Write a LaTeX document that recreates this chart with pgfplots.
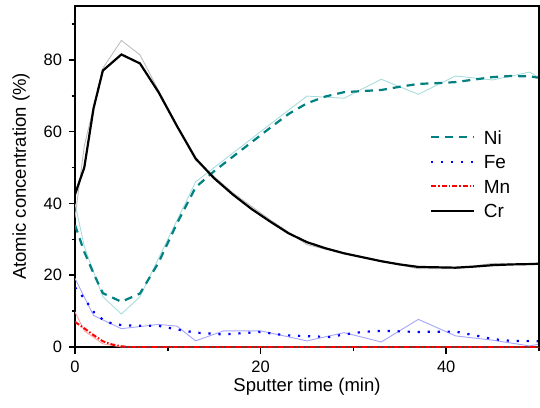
\documentclass[border=0pt]{standalone}
\usepackage{pgfplots}
\pgfplotsset{compat=1.18}
\usepackage{fontspec}
\setmainfont{Liberation Sans}
\definecolor{niteal}{RGB}{0,128,128}
\definecolor{nilight}{RGB}{170,220,220}
\definecolor{crgrey}{RGB}{190,190,190}
\definecolor{felight}{RGB}{165,165,255}
\definecolor{mnlight}{RGB}{255,165,165}
\begin{document}
\begin{tikzpicture}
\begin{axis}[
  name=ax,
  scale only axis,
  width=464bp, height=341bp,
  xmin=0, xmax=50, ymin=0, ymax=95,
  xtick={0,20,40}, minor xtick={10,30,50},
  ytick={0,20,40,60,80}, minor ytick={10,30,50,70,90},
  tick align=outside, xtick pos=bottom, ytick pos=left,
  major tick length=6.5bp, minor tick length=3.5bp,
  axis line style={line width=1.6bp, black},
  every tick/.style={line width=1.6bp, black},
  every minor tick/.style={line width=1.6bp, black},
  /pgf/number format/assume math mode=true,
  ticklabel style={font=\fontsize{16.5bp}{19bp}\selectfont},
  xticklabel style={yshift=-4bp},
  yticklabel style={xshift=-3bp},
  label style={font=\fontsize{18.5bp}{22bp}\selectfont},
  xlabel={Sputter time (min)},
  ylabel={Atomic concentration (\%)},
  xlabel style={at={(axis description cs:0.5,-0.117)}, anchor=center},
  ylabel style={at={(axis description cs:-0.1164,0.5)}, anchor=center, rotate=0},
  legend cell align=left,
  legend image code/.code={\draw[#1] (0bp,0bp) -- (43bp,0bp);},
  legend style={draw=none, fill=none, at={(0.765,0.636)}, anchor=north west,
    inner sep=0pt, row sep=10.5bp, column sep=8.5bp,
    font=\fontsize{19bp}{22bp}\selectfont,
    nodes={inner sep=0pt, text height=14bp, text depth=0bp},
    cells={anchor=west}},
]
% thin raw lines
\addplot[forget plot, crgrey, line width=0.9bp] coordinates {
(0,36) (1,56) (3,77.7) (5,85.4) (7,81.4) (9,71.5) (13,52) (17,43) (21,35.5) (25,28.5) (29,26) (33,24) (37,21.8) (41,21.8) (45,23.3) (49,23) (50,23.2)};
\addplot[forget plot, nilight, line width=0.9bp] coordinates {
(0,40) (1,28) (3,14) (5,9.2) (7,14) (13,46) (17,54) (21,62) (25,69.9) (29,69.3) (33,74.6) (37,70.4) (41,75.5) (45,74.4) (49,76.6) (50,75)};
\addplot[forget plot, felight, line width=0.9bp] coordinates {
(0,19.1) (2,8.8) (5,5.1) (9,6.3) (11,5.8) (13,1.7) (16,4.5) (20,4.5) (25,1.7) (29,4.0) (33,1.4) (37,7.7) (41,3.1) (45,1.9) (49,0.3) (50,0.8)};
\addplot[forget plot, mnlight, line width=0.9bp] coordinates {
(0,9.8) (1,4.5) (3,0.9) (5,0) (50,0)};
% thick smoothed lines
\addplot[niteal, line width=2.2bp, dash pattern=on 8bp off 6bp] coordinates {
(0,34) (1,26.5) (2,20.5) (3,15) (5,12.6) (7,14.9) (9,23.5) (11,34.5) (13,44.5) (15,49) (17,53) (19,57) (21,61) (23,64.9) (25,67.9) (27,69.8) (29,71) (31,71.3) (33,71.6) (35,72.5) (37,73.3) (39,73.5) (41,73.8) (43,74.5) (45,75.2) (47,75.5) (49,75.4) (50,75)};
\addlegendentry{Ni}
\addplot[blue, line width=2.2bp, dash pattern=on 2.2bp off 7.8bp] coordinates {
(0,16.6) (1,13.5) (2,9.8) (3,7.6) (4,6.5) (5,6.1) (7,5.9) (9,5.9) (11,4.9) (13,4.0) (16,3.5) (20,4.2) (22.5,3.3) (25,3.0) (27.5,2.8) (29,3.5) (31,4.2) (33,4.5) (37,4.2) (41,4.3) (43,3.3) (45,2.2) (47,1.7) (50,1.6)};
\addlegendentry{Fe}
\addplot[red, line width=2bp, dash pattern=on 5bp off 2bp on 1.5bp off 2bp] coordinates {
(0,7) (1,5.2) (2,3.3) (3,1.6) (4,0.7) (5,0.2) (6,0) (50,0)};
\addlegendentry{Mn}
\addplot[black, line width=2.2bp] coordinates {
(0,42.5) (1,50) (2,66.5) (3,77) (5,81.5) (7,79) (9,71) (11,61.5) (13,52.5) (15,47) (17,42.5) (19,38.5) (21,35) (23,31.7) (25,29.2) (27,27.5) (29,26.1) (31,25) (33,23.9) (35,23) (37,22.3) (39,22.2) (41,22.1) (43,22.4) (45,22.8) (47,23) (49,23.1) (50,23.2)};
\addlegendentry{Cr}
\end{axis}
\draw[line width=1.8bp, black] (ax.north west) -- (ax.north east) -- (ax.south east);
\path[use as bounding box] ([xshift=-75bp,yshift=-61bp]ax.south west) rectangle ([xshift=1bp,yshift=6bp]ax.north east);
\end{tikzpicture}
\end{document}
